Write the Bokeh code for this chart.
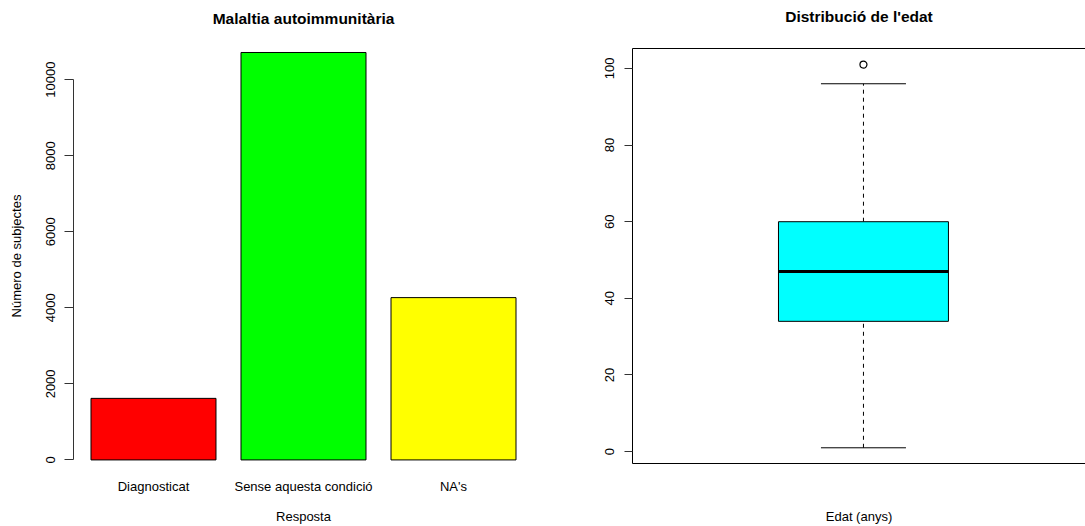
from bokeh.plotting import figure
from bokeh.layouts import row
from bokeh.models import (Range1d, FactorRange, FixedTicker, LinearAxis, CategoricalAxis,
                          ColumnDataSource, Title)
from bokeh.embed import file_html
from bokeh.resources import INLINE

# ---- data ----
categories = ["Diagnosticat", "Sense aquesta condició", "NA's"]
counts = [1619, 10716, 4269]
bar_colors = ["#FF0000", "#00FF00", "#FFFF00"]
left_ticks = [0, 2000, 4000, 6000, 8000, 10000]

age_min = 1
age_q1 = 34
age_median = 47
age_q3 = 60
age_whisker_hi = 96
age_outliers = [101]
right_ticks = [0, 20, 40, 60, 80, 100]

FONT = "Liberation Sans"
TICK_FS = "13px"
TITLE_FS = "15.5px"


def make_title(text):
    return Title(text=text, align="center", standoff=10, text_font=FONT,
                 text_font_size=TITLE_FS, text_font_style="bold", text_color="black")


def spacer(ax, gap, line_color):
    # an axis whose invisible ticks reserve `gap` pixels between frame and title
    ax.axis_line_color = line_color
    ax.major_tick_line_color = None
    ax.minor_tick_line_color = None
    ax.major_tick_out = gap
    ax.major_tick_in = 0
    ax.major_label_standoff = 0
    ax.major_label_text_font_size = "0px"
    ax.major_label_text_color = None
    return ax


# ---- left: bar chart ----
p1 = figure(width=560, height=526, output_backend="svg", toolbar_location=None,
            x_range=FactorRange(factors=categories, range_padding=0.0222),
            y_range=Range1d(-94, 10821),
            min_border_left=73, min_border_right=27, min_border_top=47, min_border_bottom=63)
p1.title = None
src = ColumnDataSource(dict(cat=categories, n=counts, col=bar_colors))
p1.vbar(x="cat", top="n", bottom=0, width=1/1.2, fill_color="col",
        line_color="#000000", line_width=1, source=src)
p1.outline_line_color = None
p1.grid.visible = False
p1.background_fill_color = "white"
p1.border_fill_color = "white"

xa = p1.below[0]
xa.axis_line_color = None
xa.major_tick_line_color = None
xa.minor_tick_line_color = None
xa.major_tick_out = 0
xa.major_tick_in = 0
xa.major_label_standoff = 15
xa.major_label_text_font = FONT
xa.major_label_text_font_size = TICK_FS
xa.major_label_text_color = "black"
xa.axis_label = "Resposta"
xa.axis_label_text_font = FONT
xa.axis_label_text_font_size = TICK_FS
xa.axis_label_text_font_style = "normal"
xa.axis_label_text_color = "black"
xa.axis_label_standoff = 12

ya = p1.left[0]
ya.ticker = FixedTicker(ticks=left_ticks)
ya.bounds = (left_ticks[0], left_ticks[-1])
ya.major_label_orientation = "vertical"
ya.major_tick_out = 9
ya.major_tick_in = 0
ya.minor_tick_line_color = None
ya.major_label_standoff = 9
ya.axis_line_color = "#333333"
ya.major_tick_line_color = "#333333"
ya.major_label_text_font = FONT
ya.major_label_text_font_size = TICK_FS
ya.major_label_text_color = "black"
ya.axis_label = "Número de subjectes"
ya.axis_label_text_font = FONT
ya.axis_label_text_font_size = TICK_FS
ya.axis_label_text_font_style = "normal"
ya.axis_label_text_color = "black"
ya.axis_label_standoff = 20

p1.add_layout(spacer(CategoricalAxis(), 17, None), "above")
p1.add_layout(make_title("Malaltia autoimmunitària"), "above")

# ---- right: boxplot ----
p2 = figure(width=525, height=526, output_backend="svg", toolbar_location=None,
            x_range=Range1d(-0.087, 2.045), y_range=Range1d(-3.1, 105.2),
            x_axis_location=None, y_axis_location=None,
            min_border_left=72, min_border_right=0, min_border_top=47, min_border_bottom=63)
p2.title = None
p2.outline_line_color = None
p2.grid.visible = False

pos = [1]
p2.segment(x0=pos, x1=pos, y0=[age_q3], y1=[age_whisker_hi], line_color="black",
           line_width=1, line_dash="4 4")
p2.segment(x0=pos, x1=pos, y0=[age_min], y1=[age_q1], line_color="black",
           line_width=1, line_dash="4 4")
p2.segment(x0=[pos[0] - 0.2, pos[0] - 0.2], x1=[pos[0] + 0.2, pos[0] + 0.2],
           y0=[age_whisker_hi, age_min], y1=[age_whisker_hi, age_min],
           line_color="black", line_width=1)
p2.quad(left=[pos[0] - 0.4], right=[pos[0] + 0.4], bottom=[age_q1], top=[age_q3],
        fill_color="#00FFFF", line_color="black", line_width=1)
p2.segment(x0=[pos[0] - 0.4], x1=[pos[0] + 0.4], y0=[age_median], y1=[age_median],
           line_color="black", line_width=3)
p2.scatter(x=[pos[0]] * len(age_outliers), y=age_outliers, marker="circle", size=7,
           fill_color=None, line_color="black", line_width=1.2)

ly = LinearAxis(ticker=FixedTicker(ticks=right_ticks))
ly.major_label_orientation = "vertical"
ly.major_tick_out = 8
ly.major_tick_in = 0
ly.minor_tick_line_color = None
ly.major_label_standoff = 10
ly.axis_line_color = "black"
ly.major_tick_line_color = "#333333"
ly.major_label_text_font = FONT
ly.major_label_text_font_size = TICK_FS
ly.major_label_text_color = "black"
p2.add_layout(ly, "left")

bx = spacer(LinearAxis(ticker=FixedTicker(ticks=[])), 0, "black")
bx.axis_label = "Edat (anys)"
bx.axis_label_text_font = FONT
bx.axis_label_text_font_size = TICK_FS
bx.axis_label_text_font_style = "normal"
bx.axis_label_text_color = "black"
bx.axis_label_standoff = 45
p2.add_layout(bx, "below")

p2.add_layout(spacer(LinearAxis(ticker=FixedTicker(ticks=pos)), 19, "black"), "above")
p2.add_layout(make_title("Distribució de l'edat"), "above")

layout = row(p1, p2, spacing=0)
open("out.html", "w").write(file_html(layout, INLINE))
